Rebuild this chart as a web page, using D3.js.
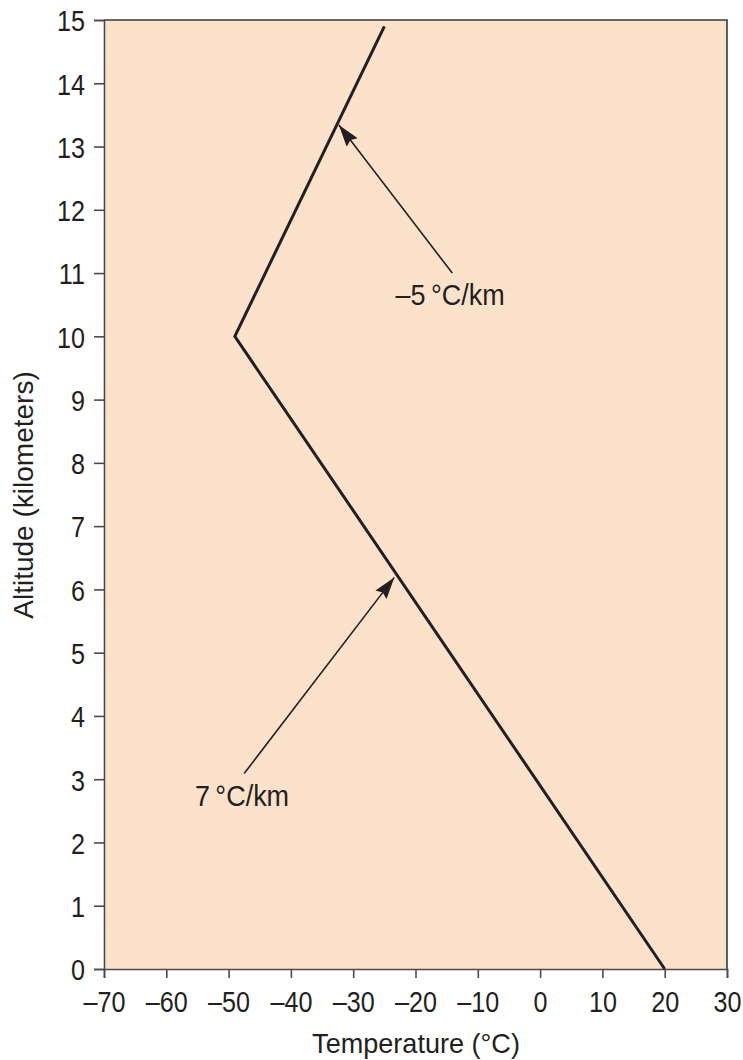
<!DOCTYPE html>
<html><head><meta charset="utf-8">
<script src="https://cdn.jsdelivr.net/npm/d3@7"></script>
<style>
html,body{margin:0;padding:0;background:#fff;}
svg{display:block;}
</style></head>
<body>
<script>
// Data
const profileTemp = [20, -49, -25];
const profileAlt = [0, 10, 14.9];
const xTicks = [-70, -60, -50, -40, -30, -20, -10, 0, 10, 20, 30];
const yTicks = [0,1,2,3,4,5,6,7,8,9,10,11,12,13,14,15];
const annotLabels = ["\u20135\u2009\u00b0C/km", "7\u2009\u00b0C/km"];
const annotTailTemp = [-14.1, -47.5];
const annotTailAlt = [11.0, 3.09];
const annotTipTemp = [-32.3, -23.4];
const annotTipAlt = [13.34, 6.19];
const annotTextTemp = [-23.2, -55.4];
const annotTextAlt = [10.49, 2.58];

const W = 743, H = 1060;
const font = "'Liberation Sans',Arial,sans-serif";
const ink = "#231f20";
const svg = d3.select("body").append("svg").attr("width", W).attr("height", H);

const x = d3.scaleLinear().domain([-70, 30]).range([104, 727]);
const y = d3.scaleLinear().domain([0, 15]).range([969, 20]);

// background
svg.append("rect").attr("x", x(-70)).attr("y", y(15))
  .attr("width", x(30) - x(-70)).attr("height", y(0) - y(15))
  .attr("fill", "#fce2ca");

// frame (top, right)
svg.append("path")
  .attr("d", `M${x(-70)},${y(15)}H${x(30)}V${y(0)}`)
  .attr("fill", "none").attr("stroke", "#3a3a3a").attr("stroke-width", 1.6);

// axes
const xAxis = d3.axisBottom(x).tickValues(xTicks).tickSize(9).tickPadding(12)
  .tickFormat(d => d < 0 ? "\u2013" + Math.abs(d) : d);
const gx = svg.append("g").attr("transform", `translate(0,${y(0)})`).call(xAxis);
const yAxis = d3.axisLeft(y).tickValues(yTicks).tickSize(10).tickPadding(9);
const gy = svg.append("g").attr("transform", `translate(${x(-70)},0)`).call(yAxis);

const sx = 0.84;
[gx, gy].forEach(g => {
  g.select(".domain").attr("stroke", "#4a4a4a").attr("stroke-width", 1.6);
  g.selectAll(".tick line").attr("stroke", "#4a4a4a").attr("stroke-width", 1.6);
  g.selectAll(".tick text").attr("fill", ink).style("font-family", font).style("font-size", "30px");
});
gy.selectAll(".tick text").each(function() {
  const t = d3.select(this);
  const tx = +t.attr("x");
  t.attr("x", 0).attr("dy", "0.36em").attr("transform", `translate(${tx},0) scale(${sx},1)`);
});
gx.selectAll(".tick text").attr("dy", "0.72em").attr("transform", `scale(${sx},1)`);

// profile line
const pts = profileTemp.map((t, i) => [t, profileAlt[i]]);
svg.append("path").datum(pts)
  .attr("d", d3.line().x(d => x(d[0])).y(d => y(d[1])))
  .attr("fill", "none").attr("stroke", ink).attr("stroke-width", 3)
  .attr("stroke-linejoin", "miter");

// arrows
const defs = svg.append("defs");
defs.append("marker").attr("id", "ah").attr("viewBox", "0 0 22 14")
  .attr("refX", 22).attr("refY", 7).attr("markerWidth", 22).attr("markerHeight", 14)
  .attr("markerUnits", "userSpaceOnUse").attr("orient", "auto")
  .append("path").attr("d", "M0,0L22,7L0,14L3,7Z").attr("fill", ink);

annotLabels.forEach((lab, i) => {
  svg.append("line")
    .attr("x1", x(annotTailTemp[i])).attr("y1", y(annotTailAlt[i]))
    .attr("x2", x(annotTipTemp[i])).attr("y2", y(annotTipAlt[i]))
    .attr("stroke", ink).attr("stroke-width", 1.6).attr("marker-end", "url(#ah)");
  svg.append("text")
    .attr("transform", `translate(${x(annotTextTemp[i])},${y(annotTextAlt[i])}) scale(0.9,1)`)
    .attr("fill", ink).style("font-family", font).style("font-size", "30px")
    .text(lab);
});

// axis titles
svg.append("text").attr("transform", "translate(416,1053) scale(0.95,1)").attr("text-anchor", "middle")
  .attr("fill", ink).style("font-family", font).style("font-size", "28.5px")
  .text("Temperature (\u00b0C)");
svg.append("text").attr("transform", "translate(33,495) rotate(-90)")
  .attr("text-anchor", "middle").attr("fill", ink)
  .style("font-family", font).style("font-size", "28px")
  .text("Altitude (kilometers)");
</script>
</body></html>
